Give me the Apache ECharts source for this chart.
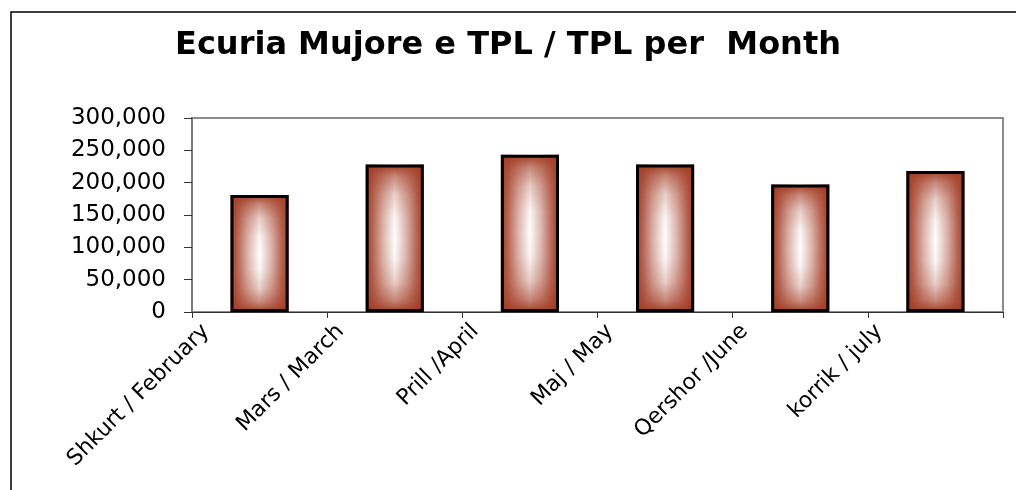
<!DOCTYPE html>
<html>
<head>
<meta charset="utf-8">
<title>Ecuria Mujore e TPL / TPL per Month</title>
<script src="https://cdn.jsdelivr.net/npm/echarts@6/dist/echarts.min.js"></script>
<style>
  html, body { margin: 0; padding: 0; background: #fff; }
  #chart { width: 1016px; height: 490px; }
</style>
</head>
<body>
<div id="chart"></div>
<script>
// muajt (shqip / anglisht)
const months = ['Shkurt / February', 'Mars / March', 'Prill /April', 'Maj / May', 'Qershor /June', 'korrik / july'];
// TPL per muaj
const tplValues = [181000, 228000, 243000, 228000, 197000, 218000];
// ticks e boshtit y
const yTicks = [0, 50000, 100000, 150000, 200000, 250000, 300000];

const brown = '#a23c24';
const chart = echarts.init(document.getElementById('chart'));

const option = {
  animation: false,
  backgroundColor: '#fff',
  title: {
    text: 'Ecuria Mujore e TPL / TPL per  Month',
    left: 'center',
    top: 25,
    padding: [5, 5, 5, 21],
    textStyle: {
      fontFamily: 'DejaVu Sans',
      fontWeight: 'bold',
      fontSize: 32,
      color: '#000'
    }
  },
  // kornizat e grafikut (zona e grafikut + zona e vizatimit)
  graphic: [{
    type: 'rect',
    shape: { x: 11, y: 12, width: 1100, height: 600 },
    style: { fill: 'none', stroke: '#000', lineWidth: 1.5 },
    silent: true
  }],
  grid: [
    { left: 192, top: 118, right: 13, bottom: 178, show: true, borderColor: '#8c8c8c', borderWidth: 2 },
    // grid i dyte vetem per etiketat e pjerreta (te zhvendosura si ne Excel)
    { left: 206, top: 118, width: 811, bottom: 178 }
  ],
  xAxis: [{
    type: 'category',
    gridIndex: 0,
    data: months,
    boundaryGap: true,
    axisLine: { lineStyle: { color: '#333', width: 1 } },
    axisTick: { show: true, length: 6, lineStyle: { color: '#333' } },
    axisLabel: { show: false }
  }, {
    type: 'category',
    gridIndex: 1,
    data: months.concat(['']),
    boundaryGap: false,
    axisLine: { show: false },
    axisTick: { show: false },
    axisLabel: {
      interval: 0,
      rotate: 45,
      margin: 16,
      fontFamily: 'DejaVu Sans',
      fontSize: 22,
      color: '#000'
    }
  }],
  yAxis: [{
    type: 'value',
    gridIndex: 0,
    min: yTicks[0],
    max: yTicks[yTicks.length - 1],
    interval: yTicks[1] - yTicks[0],
    axisLine: { show: true, lineStyle: { color: '#7a7a7a', width: 2 } },
    axisTick: { show: true, length: 8, lineStyle: { color: '#333' } },
    splitLine: { show: false },
    axisLabel: {
      margin: 26,
      fontFamily: 'DejaVu Sans',
      fontSize: 23,
      color: '#000',
      formatter: v => v.toLocaleString('en-US')
    }
  }, {
    type: 'value',
    gridIndex: 1,
    show: false
  }],
  series: [{
    // gradienti horizontal (kafe - e bardhe - kafe)
    type: 'bar',
    data: tplValues,
    barWidth: '43%',
    silent: true,
    itemStyle: {
      color: {
        type: 'linear', x: 0, y: 0, x2: 1, y2: 0,
        colorStops: [
          { offset: 0, color: brown },
          { offset: 0.12, color: '#b66454' },
          { offset: 0.3, color: '#ddb5ac' },
          { offset: 0.5, color: '#ffffff' },
          { offset: 0.7, color: '#ddb5ac' },
          { offset: 0.88, color: '#b66454' },
          { offset: 1, color: brown }
        ]
      }
    }
  }, {
    // shtrese vertikale mbi te njejtat shtylla, per efektin "nga qendra"
    type: 'bar',
    data: tplValues,
    barWidth: '43%',
    barGap: '-100%',
    silent: true,
    itemStyle: {
      borderColor: '#000',
      borderWidth: 3,
      color: {
        type: 'linear', x: 0, y: 0, x2: 0, y2: 1,
        colorStops: [
          { offset: 0, color: 'rgba(162,60,36,1)' },
          { offset: 0.08, color: 'rgba(162,60,36,0.6)' },
          { offset: 0.2, color: 'rgba(162,60,36,0.25)' },
          { offset: 0.36, color: 'rgba(162,60,36,0.04)' },
          { offset: 0.5, color: 'rgba(162,60,36,0)' },
          { offset: 0.64, color: 'rgba(162,60,36,0.04)' },
          { offset: 0.8, color: 'rgba(162,60,36,0.25)' },
          { offset: 0.92, color: 'rgba(162,60,36,0.6)' },
          { offset: 1, color: 'rgba(162,60,36,1)' }
        ]
      }
    }
  }]
};

chart.setOption(option);
</script>
</body>
</html>
